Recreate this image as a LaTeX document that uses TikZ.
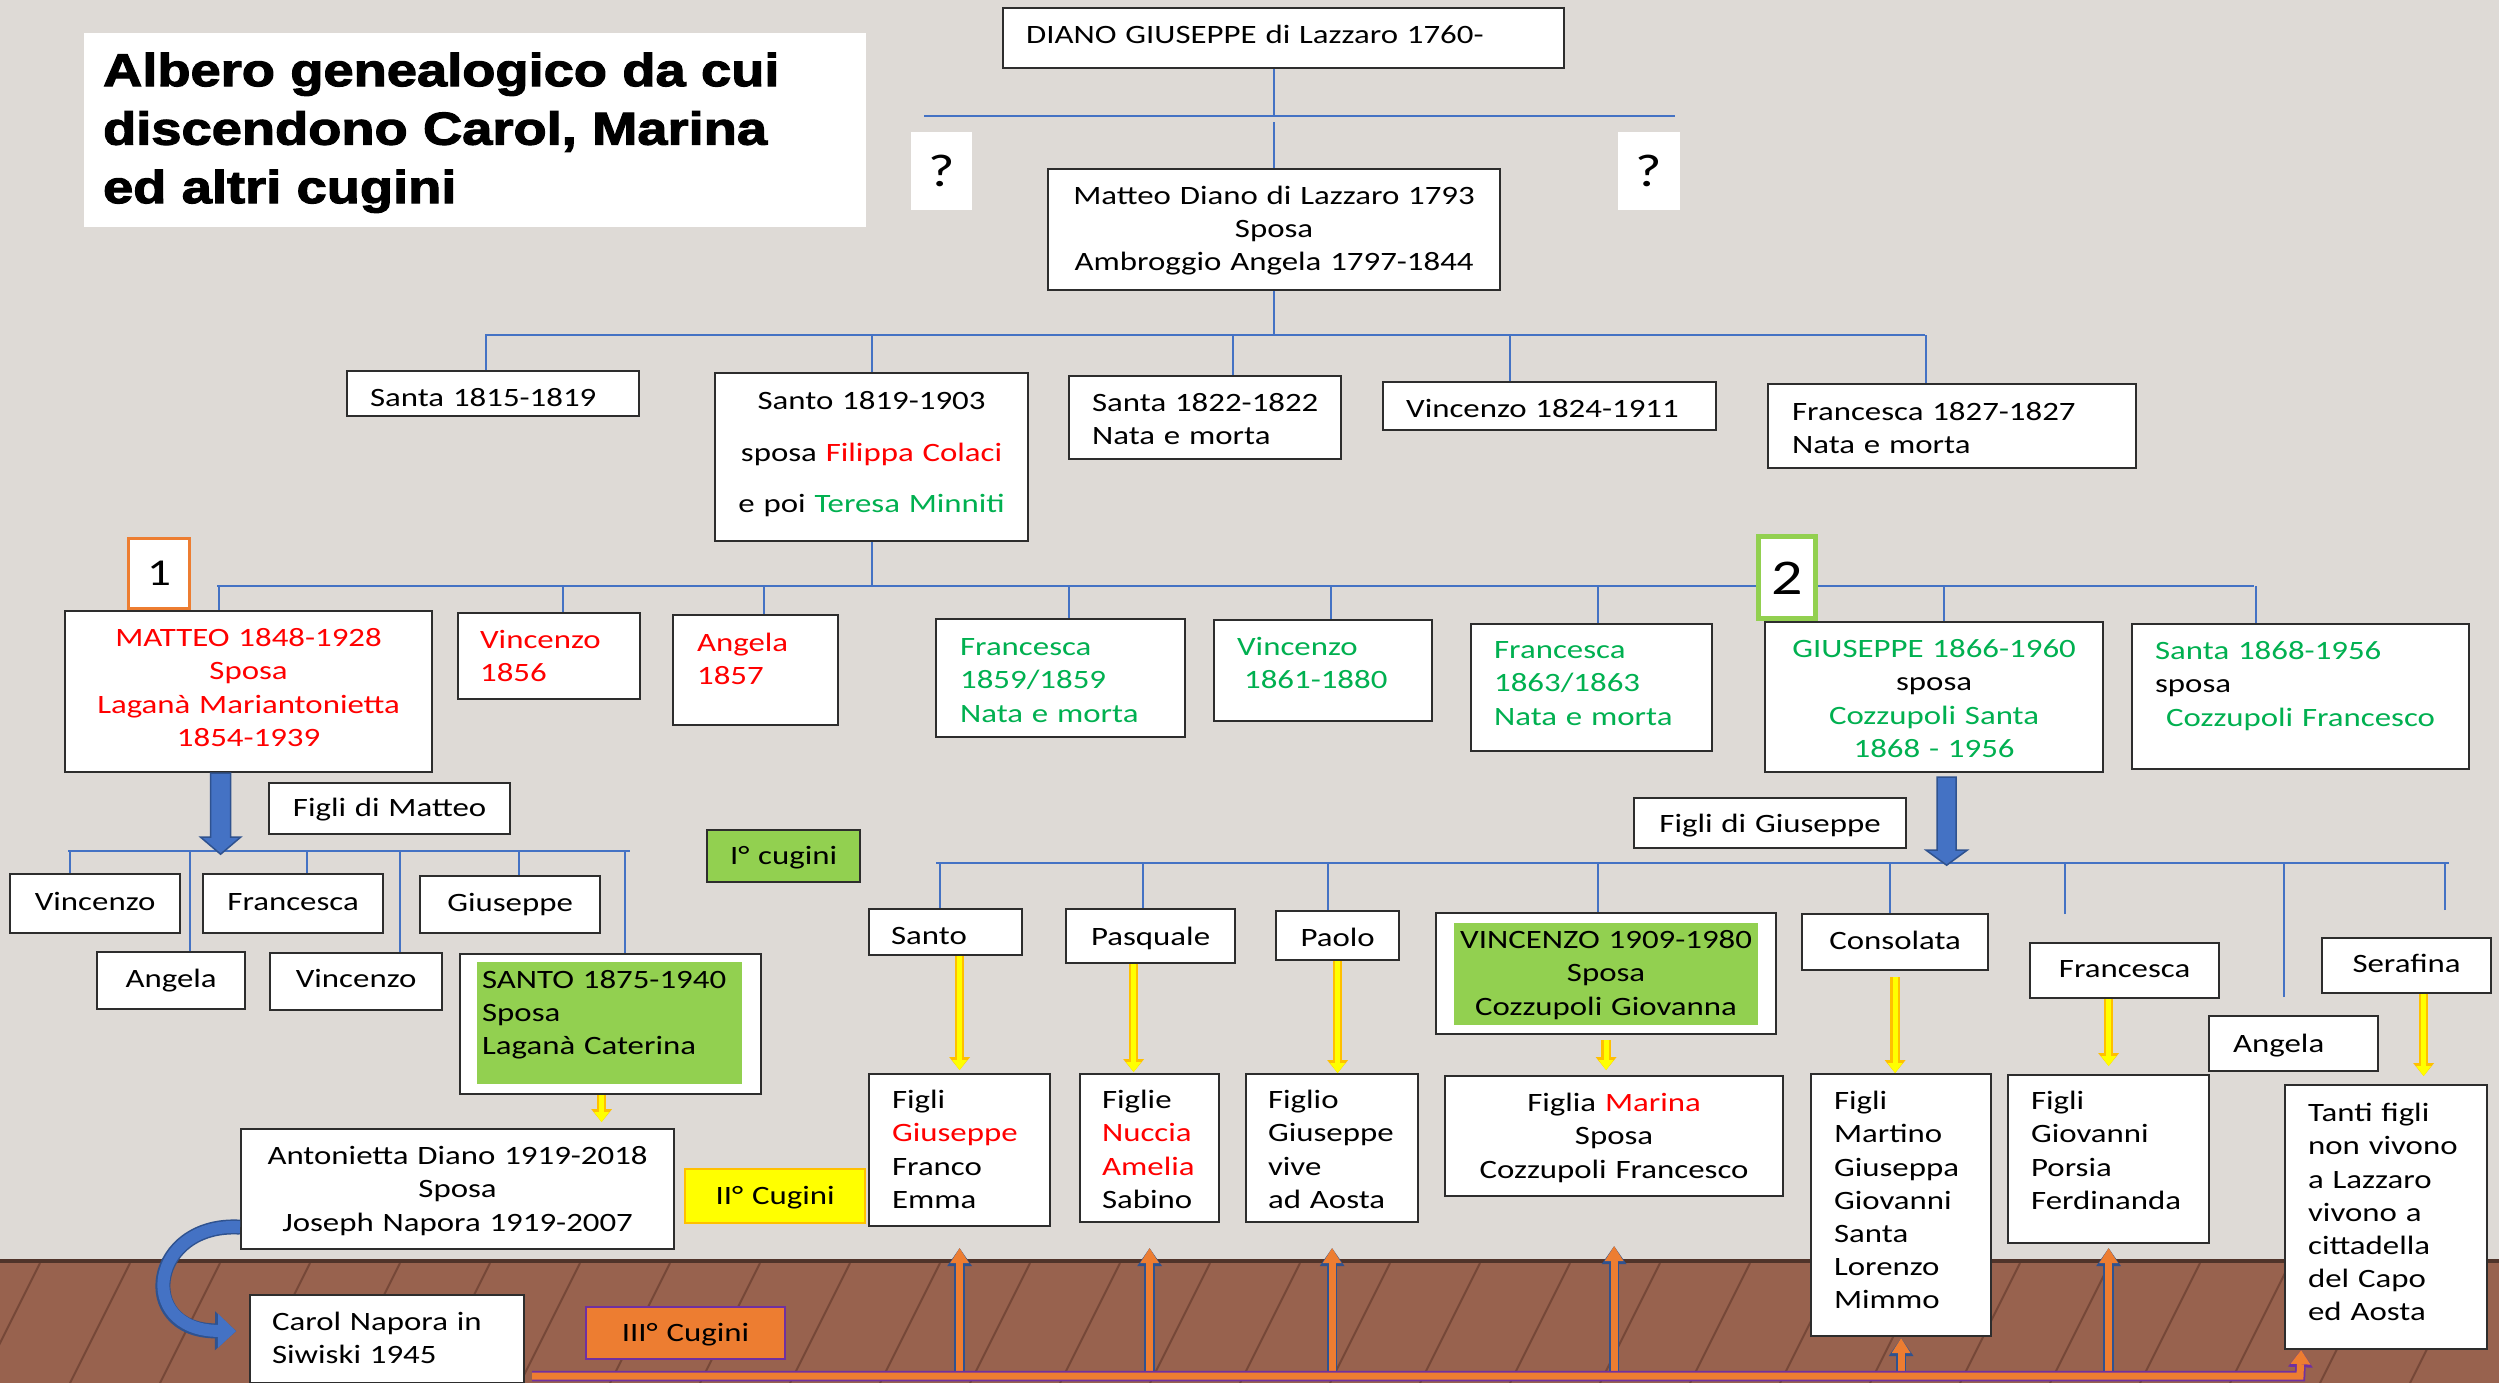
\documentclass[tikz,border=0pt]{standalone}
\usepackage{fontspec}
\usepackage{xcolor}
\usepackage{tikz}
\usetikzlibrary{calc, arrows.meta}

\newfontfamily\bodyfont{Carlito}[FakeStretch=1.24]
\newfontfamily\titlefont{Liberation Sans}[FakeStretch=1.18, BoldFeatures={FakeBold=2.5}]

\definecolor{bgpaper}{RGB}{222,218,214}
\definecolor{floorbrown}{RGB}{152,98,78}
\definecolor{plankdark}{RGB}{118,72,56}
\definecolor{floortop}{RGB}{80,52,42}
\definecolor{linkblue}{RGB}{68,114,196}
\definecolor{edgeblue}{RGB}{47,82,143}
\definecolor{boxedge}{RGB}{45,45,45}
\definecolor{txtred}{RGB}{255,0,0}
\definecolor{txtgreen}{RGB}{0,176,80}
\definecolor{boxgreen}{RGB}{146,208,80}
\definecolor{markorange}{RGB}{237,125,49}
\definecolor{yelfill}{RGB}{255,255,0}
\definecolor{yeledge}{RGB}{255,192,0}
\definecolor{barpurple}{RGB}{112,48,160}

\begin{document}
\begin{tikzpicture}[
    x=1pt, y=-1pt,
    link/.style={draw=linkblue, line width=1.8pt},
    box/.style={rectangle, draw=boxedge, line width=2.2pt, fill=white, anchor=north west, inner ysep=0pt, inner xsep=23pt, align=left, font=\bodyfont\fontsize{26.5}{33.2}\selectfont},
    cbox/.style={box, inner xsep=10pt, align=center},
    frame/.style={rectangle, draw=boxedge, line width=2.2pt, fill=white, anchor=north west, inner sep=0pt},
    sz/.style n args={3}{text width=#1, text height=#2, text depth=#3},
    % arrows
    bigarrow/.style={fill=linkblue, draw=edgeblue, line width=1.5pt, line join=miter},
    curvearrow/.style={draw=linkblue, line width=12pt, -{Triangle[width=34pt,length=18pt,line width=0pt]}, preaction={draw=edgeblue, line width=15pt, -{Triangle[width=39pt,length=21pt,line width=0pt]}}},
    yarrow/.style={draw=yelfill, line width=5pt, -{Triangle[width=15pt,length=10pt,line width=0pt]}, preaction={draw=yeledge, line width=9.5pt, -{Triangle[width=21pt,length=13pt,line width=0pt]}}},
    oarrow/.style={draw=markorange, line width=7pt, -{Triangle[width=19pt,length=15pt,line width=0pt]}, preaction={draw=edgeblue, line width=10.5pt, -{Triangle[width=25pt,length=18pt,line width=0pt]}}},
    bar/.style={draw=markorange, line width=7pt, line join=miter, -{Triangle[width=20pt,length=14pt,line width=0pt]}, preaction={draw=barpurple, line width=10.5pt, line join=miter, -{Triangle[width=25pt,length=17pt,line width=0pt]}}}
]
    \useasboundingbox (0,0) rectangle (2499,1383);
    \fill[bgpaper] (0,0) rectangle (2499,1383);

    % floor
    \fill[floorbrown] (0,1261) rectangle (2499,1383);
    \foreach \px in {40,130,...,2700} {
        \draw[plankdark, line width=2pt] (\px,1263) -- ++(-60,120);
    }
    \draw[floortop, line width=4pt] (0,1261) -- (2499,1261);

    % =========================================================================
    % TITOLO E CAPOSTIPITE
    % =========================================================================
    \node [box, draw=none, inner xsep=19pt, font=\titlefont\bfseries\fontsize{46}{58.5}\selectfont, sz={744pt}{53pt}{141pt}] (title) at (83,32) {Albero genealogico da cui\\discendono Carol, Marina\\ed altri cugini};

    \node [box, sz={515pt}{35.5pt}{24.5pt}] (diano) at (1002,7) {DIANO GIUSEPPE di Lazzaro 1760-};
    \node [cbox, draw=none, inner xsep=5pt, font=\bodyfont\fontsize{46}{48}\selectfont, sz={51pt}{54pt}{24pt}] (q1) at (910,131) {?};
    \node [cbox, draw=none, inner xsep=5pt, font=\bodyfont\fontsize{46}{48}\selectfont, sz={52pt}{54pt}{24pt}] (q2) at (1617,131) {?};
    \node [cbox, sz={432pt}{35.5pt}{85.5pt}] (matteo0) at (1047,168) {Matteo Diano di Lazzaro 1793\\Sposa\\Ambroggio Angela 1797-1844};

    % =========================================================================
    % FIGLI DI MATTEO E ANGELA
    % =========================================================================
    \node [box, sz={246pt}{35.5pt}{9.5pt}] (s1815) at (346,370) {Santa 1815-1819};
    \node [cbox, sz={293pt}{36.5pt}{131.5pt}] (s1819) at (714,372) {Santo 1819-1903\\[18.3pt]sposa \textcolor{txtred}{Filippa Colaci}\\[18.3pt]e poi \textcolor{txtgreen}{Teresa Minniti}};
    \node [box, inner xsep=23pt, sz={226pt}{35.5pt}{47.5pt}] (s1822) at (1068,375) {\mbox{Santa 1822-1822}\\Nata e morta};
    \node [box, sz={287pt}{35.5pt}{12.5pt}] (v1824) at (1382,381) {Vincenzo 1824-1911};
    \node [box, inner xsep=24pt, sz={320pt}{36.5pt}{47.5pt}] (f1827) at (1767,383) {Francesca 1827-1827\\Nata e morta};

    % =========================================================================
    % FIGLI DI SANTO
    % =========================================================================
    \node [cbox, text=txtred, sz={347pt}{35.5pt}{125.5pt}] (matteo) at (64,610) {MATTEO 1848-1928\\Sposa\\Laganà Mariantonietta\\1854-1939};
    \node [box, text=txtred, inner xsep=22pt, sz={138pt}{35.5pt}{50.5pt}] (v1856) at (457,612) {Vincenzo\\1856};
    \node [box, text=txtred, inner xsep=24pt, sz={117pt}{36.5pt}{73.5pt}] (a1857) at (672,614) {Angela\\1857};
    \node [box, text=txtgreen, inner xsep=24pt, sz={201pt}{36.5pt}{81.5pt}] (f1859) at (935,618) {Francesca\\1859/1859\\Nata e morta};
    \node [box, text=txtgreen, sz={172pt}{35.5pt}{65.5pt}] (v1861) at (1213,619) {Vincenzo\\\hspace*{7pt}1861-1880};
    \node [box, text=txtgreen, sz={195pt}{34.5pt}{92.5pt}] (f1863) at (1470,623) {Francesca\\1863/1863\\Nata e morta};
    \node [cbox, text=txtgreen, sz={318pt}{35.5pt}{114.5pt}] (giuseppe) at (1764,621) {GIUSEPPE 1866-1960\\\textcolor{black}{sposa}\\Cozzupoli Santa\\1868 - 1956};
    \node [box, sz={291pt}{35.5pt}{109.5pt}] (s1868) at (2131,623) {\textcolor{txtgreen}{Santa 1868-1956}\\sposa\\\hspace*{11pt}\textcolor{txtgreen}{Cozzupoli Francesco}};

    \node [cbox, draw=markorange, line width=3pt, inner xsep=5pt, font=\bodyfont\fontsize{38}{40}\selectfont, sz={51pt}{47pt}{23pt}] (one) at (127,537) {1};

    % =========================================================================
    % RAMO 1: FIGLI DI MATTEO
    % =========================================================================
    \node [cbox, sz={221pt}{33.5pt}{17.5pt}] (figliM) at (268,782) {Figli di Matteo};
    \node [cbox, sz={150pt}{36.5pt}{22.5pt}] (mv1) at (9,873) {Vincenzo};
    \node [cbox, sz={160pt}{36.5pt}{22.5pt}] (mfr) at (202,873) {Francesca};
    \node [cbox, sz={160pt}{35.5pt}{21.5pt}] (mgi) at (419,875) {Giuseppe};
    \node [cbox, sz={128pt}{35.5pt}{21.5pt}] (man) at (96,951) {Angela};
    \node [cbox, sz={152pt}{34.5pt}{22.5pt}] (mv2) at (269,952) {Vincenzo};
    \node [frame, minimum width=301pt, minimum height=140pt] (santo) at (459,953) {};
    \node [box, draw=none, fill=boxgreen, inner xsep=5pt, sz={255pt}{26pt}{96pt}] (santoin) at (476,961) {SANTO 1875-1940\\Sposa\\Laganà Caterina};

    \node [cbox, sz={413pt}{35.5pt}{84.5pt}] (antonietta) at (240,1128) {Antonietta Diano 1919-2018\\Sposa\\Joseph Napora 1919-2007};
    \node [box, inner xsep=22pt, sz={230pt}{35.5pt}{52.5pt}] (carol) at (249,1294) {Carol Napora in\\Siwiski 1945};

    \node [cbox, fill=boxgreen, inner xsep=8pt, sz={137pt}{34.5pt}{17.5pt}] (icug) at (706,829) {I° cugini};
    \node [cbox, fill=yelfill, draw=yeledge, sz={160pt}{35.5pt}{18.5pt}] (iicug) at (684,1168) {II° Cugini};
    \node [cbox, fill=markorange, draw=barpurple, sz={179pt}{34.5pt}{17.5pt}] (iiicug) at (585,1306) {III° Cugini};

    % =========================================================================
    % RAMO 2: FIGLI DI GIUSEPPE
    % =========================================================================
    \node [cbox, sz={252pt}{34.5pt}{15.5pt}] (figliG) at (1633,797) {Figli di Giuseppe};
    \node [box, inner xsep=22pt, sz={109pt}{35.5pt}{10.5pt}] (gsa) at (868,908) {Santo};
    \node [cbox, sz={149pt}{36.5pt}{17.5pt}] (gpa) at (1065,908) {Pasquale};
    \node [cbox, sz={103pt}{35.5pt}{13.5pt}] (gpo) at (1275,910) {Paolo};
    \node [frame, minimum width=340pt, minimum height=121pt] (gvi) at (1435,912) {};
    \node [cbox, draw=none, fill=boxgreen, inner xsep=5pt, sz={294pt}{25.5pt}{76.5pt}] (gviin) at (1453,922) {VINCENZO 1909-1980\\Sposa\\Cozzupoli Giovanna};
    \node [cbox, sz={166pt}{35.5pt}{20.5pt}] (gco) at (1801,913) {Consolata};
    \node [cbox, sz={169pt}{34.5pt}{20.5pt}] (gfr) at (2029,942) {Francesca};
    \node [box, inner xsep=24pt, sz={121pt}{36.5pt}{18.5pt}] (gan) at (2208,1015) {Angela};
    \node [cbox, sz={149pt}{34.5pt}{20.5pt}] (gse) at (2321,937) {Serafina};

    \node [box, sz={135pt}{34.5pt}{117.5pt}] (n1) at (868,1073) {Figli\\\textcolor{txtred}{Giuseppe}\\Franco\\Emma};
    \node [box, inner xsep=22pt, sz={95pt}{34.5pt}{113.5pt}] (n2) at (1079,1073) {Figlie\\\textcolor{txtred}{Nuccia}\\\textcolor{txtred}{Amelia}\\Sabino};
    \node [box, inner xsep=22pt, sz={128pt}{34.5pt}{113.5pt}] (n3) at (1245,1073) {Figlio\\Giuseppe\\vive\\ad Aosta};
    \node [cbox, sz={318pt}{35.5pt}{84.5pt}] (n4) at (1444,1075) {Figlia \textcolor{txtred}{Marina}\\Sposa\\Cozzupoli Francesco};
    \node [box, sz={134pt}{35.5pt}{226.5pt}] (n5) at (1810,1073) {Figli\\Martino\\Giuseppa\\Giovanni\\Santa\\Lorenzo\\Mimmo};
    \node [box, sz={155pt}{34.5pt}{133.5pt}] (n6) at (2007,1074) {Figli\\Giovanni\\Porsia\\Ferdinanda};
    \node [box, sz={156pt}{36.5pt}{227.5pt}] (n7) at (2284,1084) {Tanti figli\\non vivono\\a Lazzaro\\vivono a\\cittadella\\del Capo\\ed Aosta};

    % =========================================================================
    % LINEE DI DISCENDENZA
    % =========================================================================
    \coordinate (busA-l) at (924,116);
    \coordinate (busA-r) at (1675,116);
    \coordinate (gapA) at (1275,122);
    \draw [link] (busA-l) -- (busA-r);
    \draw [link] ([xshift=-10pt]diano.south) -- ($(diano.south |- busA-l)+(-10,0)$);
    \draw [link] (matteo0.north) -- (matteo0.north |- gapA);

    \coordinate (busB-l) at (485,335);
    \coordinate (busB-r) at (1925,335);
    \draw [link] (busB-l) -- (busB-r);
    \draw [link] (matteo0.south) -- (matteo0.south |- busB-l);
    \draw [link] ([xshift=-7pt]s1815.north) -- ($(s1815.north |- busB-l)+(-7,0)$);
    \draw [link] (s1819.north) -- (s1819.north |- busB-l);
    \draw [link] ([xshift=28pt]s1822.north) -- ($(s1822.north |- busB-l)+(28,0)$);
    \draw [link] ([xshift=-40pt]v1824.north) -- ($(v1824.north |- busB-l)+(-40,0)$);
    \draw [link] ([xshift=-26pt]f1827.north) -- ($(f1827.north |- busB-l)+(-26,0)$);

    \coordinate (busC-l) at (217,586);
    \coordinate (busC-r) at (2254,586);
    \draw [link] (busC-l) -- (busC-r);
    \draw [link] (s1819.south) -- (s1819.south |- busC-l);
    \draw [link] ([xshift=-30pt]matteo.north) -- ($(matteo.north |- busC-l)+(-30,0)$);
    \draw [link] ([xshift=14pt]v1856.north) -- ($(v1856.north |- busC-l)+(14,0)$);
    \draw [link] ([xshift=8pt]a1857.north) -- ($(a1857.north |- busC-l)+(8,0)$);
    \draw [link] ([xshift=8pt]f1859.north) -- ($(f1859.north |- busC-l)+(8,0)$);
    \draw [link] ([xshift=8pt]v1861.north) -- ($(v1861.north |- busC-l)+(8,0)$);
    \draw [link] ([xshift=6pt]f1863.north) -- ($(f1863.north |- busC-l)+(6,0)$);
    \draw [link] ([xshift=10pt]giuseppe.north) -- ($(giuseppe.north |- busC-l)+(10,0)$);
    \draw [link] ([xshift=-45pt]s1868.north) -- ($(s1868.north |- busC-l)+(-45,0)$);

    \coordinate (busD-l) at (68,851);
    \coordinate (busD-r) at (630,851);
    \draw [link] (busD-l) -- (busD-r);
    \draw [link] ([xshift=-25pt]mv1.north) -- ($(mv1.north |- busD-l)+(-25,0)$);
    \draw [link] ([xshift=19pt]man.north) -- ($(man.north |- busD-l)+(19,0)$);
    \draw [link] ([xshift=14pt]mfr.north) -- ($(mfr.north |- busD-l)+(14,0)$);
    \draw [link] ([xshift=44pt]mv2.north) -- ($(mv2.north |- busD-l)+(44,0)$);
    \draw [link] ([xshift=9pt]mgi.north) -- ($(mgi.north |- busD-l)+(9,0)$);
    \draw [link] ([xshift=14pt]santo.north) -- ($(santo.north |- busD-l)+(14,0)$);

    \coordinate (busE-l) at (936,863);
    \coordinate (busE-r) at (2449,863);
    \draw [link] (busE-l) -- (busE-r);
    \draw [link] ([xshift=-6pt]gsa.north) -- ($(gsa.north |- busE-l)+(-6,0)$);
    \draw [link] ([xshift=-8pt]gpa.north) -- ($(gpa.north |- busE-l)+(-8,0)$);
    \draw [link] ([xshift=-10pt]gpo.north) -- ($(gpo.north |- busE-l)+(-10,0)$);
    \draw [link] ([xshift=-8pt]gvi.north) -- ($(gvi.north |- busE-l)+(-8,0)$);
    \draw [link] ([xshift=-5pt]gco.north) -- ($(gco.north |- busE-l)+(-5,0)$);
    \draw [link] ([xshift=-60pt,yshift=28pt]gfr.north) -- ($(gfr.north |- busE-l)+(-60,0)$);
    \draw [link] ([xshift=-10pt,yshift=18pt]gan.north) -- ($(gan.north |- busE-l)+(-10,0)$);
    \draw [link] ([xshift=38pt,yshift=27pt]gse.north) -- ($(gse.north |- busE-l)+(38,0)$);

    % frecce blu larghe
    \filldraw [bigarrow] ([xshift=-38pt]matteo.south) -- ++(20,0) -- ++(0,64) -- ++(10,0) -- ++(-20,17) -- ++(-20,-17) -- ++(10,0) -- cycle;
    \filldraw [bigarrow] ([xshift=3pt,yshift=-4pt]giuseppe.south) -- ++(19,0) -- ++(0,73) -- ++(11,0) -- ++(-20.5,15) -- ++(-20.5,-15) -- ++(11,0) -- cycle;
    \draw [curvearrow] ([yshift=-38pt]antonietta.west) .. controls (150,1222) and (135,1330) .. ([xshift=-13pt,yshift=8pt]carol.west);

    % frecce gialle
    \draw [yarrow] ([xshift=-9pt]santo.south) -- ($(santo.south |- antonietta.north)+(-9,-6)$);
    \draw [yarrow] (n1.north |- gsa.south) -- ([yshift=3pt]n1.north);
    \draw [yarrow] ([xshift=-17pt]gpa.south) -- ($(gpa.south |- n2.north)+(-17,-1)$);
    \draw [yarrow] (gpo.south) -- (gpo.south |- n3.north);
    \draw [yarrow] ([yshift=-5pt]gvi.south) -- ($(gvi.south |- n4.north)+(0,-5)$);
    \draw [yarrow] ([yshift=-6pt]gco.south) -- (gco.south |- n5.north);
    \draw [yarrow] (n6.north |- gfr.south) -- ([yshift=8pt]n6.north);
    \draw [yarrow] ([xshift=17pt]gse.south) -- ($(gse.south |- n7.north)+(17,-8)$);

    % =========================================================================
    % III CUGINI: BARRA IN BASSO
    % =========================================================================
    \coordinate (bar-l) at (532,1376);
    \coordinate (bar-r) at (2300,1376);
    \draw [oarrow] (n1.south |- bar-l) -- ([yshift=-21pt]n1.south);
    \draw [oarrow] (n2.south |- bar-l) -- ([yshift=-25pt]n2.south);
    \draw [oarrow] (n3.south |- bar-l) -- ([yshift=-25pt]n3.south);
    \draw [oarrow] (n4.south |- bar-l) -- ([yshift=-49pt]n4.south);
    \draw [oarrow] (n5.south |- bar-l) -- ([yshift=-1pt]n5.south);
    \draw [oarrow] (n6.south |- bar-l) -- ([yshift=-4pt]n6.south);
    \draw [bar] (bar-l) -- (bar-r) -- ([xshift=-85pt]n7.south);

    \node [cbox, draw=boxgreen, line width=5pt, inner xsep=5pt, font=\bodyfont\fontsize{50}{52}\selectfont, sz={47pt}{58pt}{24pt}] (two) at (1756,534) {2};
\end{tikzpicture}
\end{document}
